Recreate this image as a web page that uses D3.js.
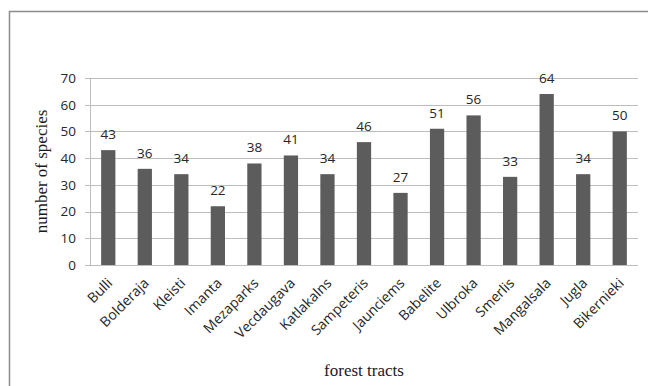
<!DOCTYPE html>
<html>
<head>
<meta charset="utf-8">
<script src="https://cdn.jsdelivr.net/npm/d3@7"></script>
<style>
  html, body { margin: 0; padding: 0; background: #fff; }
  svg { display: block; }
</style>
</head>
<body>
<svg id="chart" width="648" height="386"></svg>
<script>
// Species counts per forest tract
const tracts = ["Bulli", "Bolderaja", "Kleisti", "Imanta", "Mezaparks", "Vecdaugava",
  "Katlakalns", "Sampeteris", "Jaunciems", "Babelite", "Ulbroka", "Smerlis",
  "Mangalsala", "Jugla", "Bikernieki"];
const species = [43, 36, 34, 22, 38, 41, 34, 46, 27, 51, 56, 33, 64, 34, 50];
const yTicks = [0, 10, 20, 30, 40, 50, 60, 70];

const svg = d3.select("#chart");
const W = 648, H = 386;
const plot = { left: 90, right: 638, top: 78, bottom: 265 };
const sans = "'Open Sans', sans-serif";
const textColor = "#262626";

// frame around the figure
svg.append("path")
  .attr("d", `M9.5,${H} V11.5 H${W}`)
  .attr("fill", "none")
  .attr("stroke", "#8c8c8c")
  .attr("stroke-width", 1.5);

const x = d3.scaleBand().domain(tracts).range([plot.left, plot.right]).paddingInner(0.61).paddingOuter(0.305);
const y = d3.scaleLinear().domain([0, 70]).range([plot.bottom, plot.top]);

// gridlines + y ticks
const yAxis = d3.axisLeft(y).tickValues(yTicks).tickSize(plot.right - plot.left + 5).tickPadding(9);
const gy = svg.append("g").attr("transform", `translate(${plot.right},0)`).call(yAxis);
gy.select(".domain").remove();
gy.selectAll(".tick line").attr("stroke", "#bdbdbd").attr("shape-rendering", "crispEdges");
gy.selectAll(".tick text")
  .attr("font-family", sans)
  .attr("font-size", 13.5)
  .attr("fill", textColor);

// vertical axis line
svg.append("line")
  .attr("x1", plot.left + 0.5).attr("x2", plot.left + 0.5)
  .attr("y1", plot.top).attr("y2", plot.bottom)
  .attr("stroke", "#bdbdbd");

// bars
svg.append("g").selectAll("rect")
  .data(species)
  .join("rect")
  .attr("x", (d, i) => x(tracts[i]))
  .attr("y", d => y(d))
  .attr("width", x.bandwidth())
  .attr("height", d => y(0) - y(d))
  .attr("fill", "#5c5c5c");

// value labels
svg.append("g").selectAll("text")
  .data(species)
  .join("text")
  .attr("x", (d, i) => x(tracts[i]) + x.bandwidth() / 2)
  .attr("y", d => y(d) - 11)
  .attr("text-anchor", "middle")
  .attr("font-family", sans)
  .attr("font-size", 13.5)
  .attr("fill", textColor)
  .text(d => d);

// category labels, rotated
svg.append("g").selectAll("text")
  .data(tracts)
  .join("text")
  .attr("transform", d => `translate(${x(d) + x.bandwidth() / 2 + 5},${plot.bottom + 19}) rotate(-45)`)
  .attr("text-anchor", "end")
  .attr("font-family", sans)
  .attr("font-size", 14)
  .attr("fill", textColor)
  .text(d => d);

// axis titles
svg.append("text")
  .attr("transform", `translate(47,${(plot.top + plot.bottom) / 2}) rotate(-90)`)
  .attr("text-anchor", "middle")
  .attr("font-family", "'Liberation Serif', serif")
  .attr("font-size", 17)
  .attr("fill", "#1a1a1a")
  .text("number of species");

svg.append("text")
  .attr("x", (plot.left + plot.right) / 2)
  .attr("y", 376)
  .attr("text-anchor", "middle")
  .attr("font-family", "'Liberation Serif', serif")
  .attr("font-size", 17)
  .attr("fill", "#1a1a1a")
  .text("forest tracts");
</script>
</body>
</html>
